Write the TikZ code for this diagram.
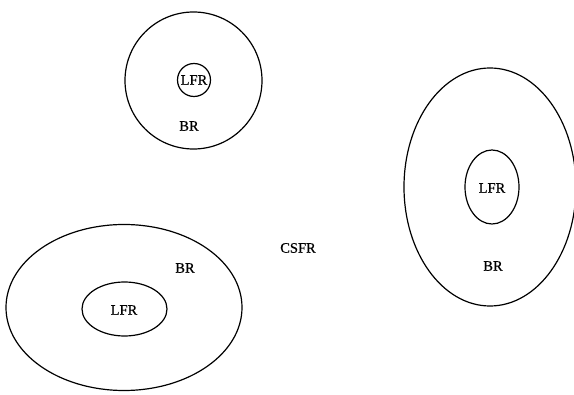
\documentclass[tikz,border=0pt]{standalone}
\usepackage{fontspec}
\setmainfont{Liberation Serif}[FakeBold=0.6]
\usetikzlibrary{shapes.geometric}
\begin{document}
\begin{tikzpicture}[x=1pt,y=-1pt,
  ring/.style={draw=black,line width=1.2pt,ellipse,inner sep=0pt},
  lbl/.style={font=\fontsize{14.5}{15}\selectfont,inner sep=0pt}]
\useasboundingbox (0,0) rectangle (574,395);
% top circle
\node[ring,circle,minimum size=137pt] (c1) at (193.5,80.5) {};
\node[ring,circle,minimum size=33pt] (c1i) at (194,80) {};
\node[lbl] (l1) at (194,80) {LFR};
\node[lbl] (b1) at (189,126) {BR};
% right ellipse
\node[ring,minimum width=172pt,minimum height=238pt] (e2) at (490,187) {};
\node[ring,minimum width=54pt,minimum height=74pt] (e2i) at (492,187) {};
\node[lbl] (l2) at (492,188) {LFR};
\node[lbl] (b2) at (493,266) {BR};
% bottom-left ellipse
\node[ring,minimum width=236pt,minimum height=166pt] (e3) at (124,307.5) {};
\node[ring,minimum width=85pt,minimum height=54pt] (e3i) at (124.5,309) {};
\node[lbl] (l3) at (124,310) {LFR};
\node[lbl] (b3) at (185,268) {BR};
% centre label
\node[lbl] (cs) at (298,248) {CSFR};
\end{tikzpicture}
\end{document}
